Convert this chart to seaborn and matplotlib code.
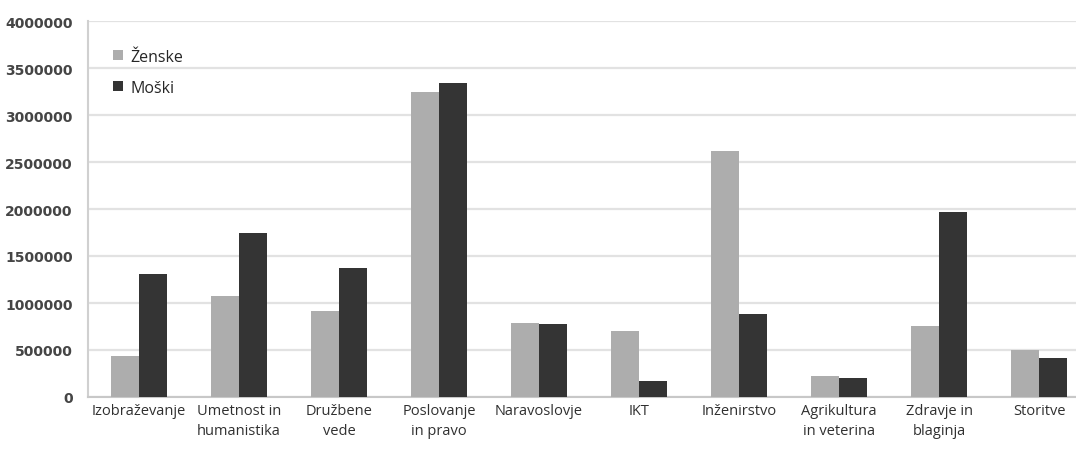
import matplotlib
matplotlib.use("Agg")
import matplotlib.pyplot as plt
import seaborn as sns
import pandas as pd

# Fields of study and graduate counts by sex
categories = [
    "Izobraževanje", "Umetnost in\nhumanistika", "Družbene\nvede",
    "Poslovanje\nin pravo", "Naravoslovje", "IKT", "Inženirstvo",
    "Agrikultura\nin veterina", "Zdravje in\nblaginja", "Storitve",
]
zenske = [440000, 1070000, 910000, 3250000, 790000, 700000, 2620000, 220000, 760000, 500000]
moski = [1310000, 1740000, 1370000, 3340000, 780000, 170000, 880000, 200000, 1970000, 420000]
series_names = ["Ženske", "Moški"]
yticks = [0, 500000, 1000000, 1500000, 2000000, 2500000, 3000000, 3500000, 4000000]

df = pd.DataFrame({
    "kategorija": categories * 2,
    "vrednost": zenske + moski,
    "spol": [series_names[0]] * len(categories) + [series_names[1]] * len(categories),
})

sns.set_theme(style="white")
plt.rcParams["font.family"] = ["DejaVu Sans"]

fig = plt.figure(figsize=(10.76, 4.52), dpi=100)
ax = fig.add_axes([88 / 1076, 1 - 398 / 452, 1 - 88 / 1076, (398 - 22) / 452])

palette = {"Ženske": "#adadad", "Moški": "#343434"}
sns.barplot(data=df, x="kategorija", y="vrednost", hue="spol", palette=palette,
            width=0.56, order=categories, hue_order=series_names,
            edgecolor="none", saturation=1, ax=ax, zorder=3)

ax.set_xlim(-0.51, 9.37)
ax.set_ylim(0, 4000000)
ax.set_yticks(yticks)
ax.set_yticklabels([str(v) for v in yticks])
ax.set_xlabel("")
ax.set_ylabel("")

ax.yaxis.grid(True, color="#e2e2e2", linewidth=1.6, zorder=0)
ax.set_axisbelow(True)
for side in ["top", "right"]:
    ax.spines[side].set_visible(False)
ax.spines["left"].set_color("#d0d0d0")
ax.spines["left"].set_linewidth(1.5)
ax.spines["bottom"].set_color("#c8c8c8")
ax.spines["bottom"].set_linewidth(1.5)

ax.tick_params(axis="y", length=0, pad=11, labelsize=10, labelcolor="#454545")
ax.tick_params(axis="x", length=0, pad=4, labelsize=10.5, labelcolor="#303030")
for lbl in ax.get_yticklabels():
    lbl.set_fontweight("bold")
for lbl in ax.get_xticklabels():
    lbl.set_family("Open Sans")
    lbl.set_linespacing(1.5)

ax.legend(loc="upper left", bbox_to_anchor=(0.011, 0.965), frameon=False,
          handlelength=0.6, handleheight=0.6, handletextpad=0.5,
          labelspacing=0.95, prop={"family": "Open Sans", "size": 11.5})

fig.savefig("out.png", dpi=100)
